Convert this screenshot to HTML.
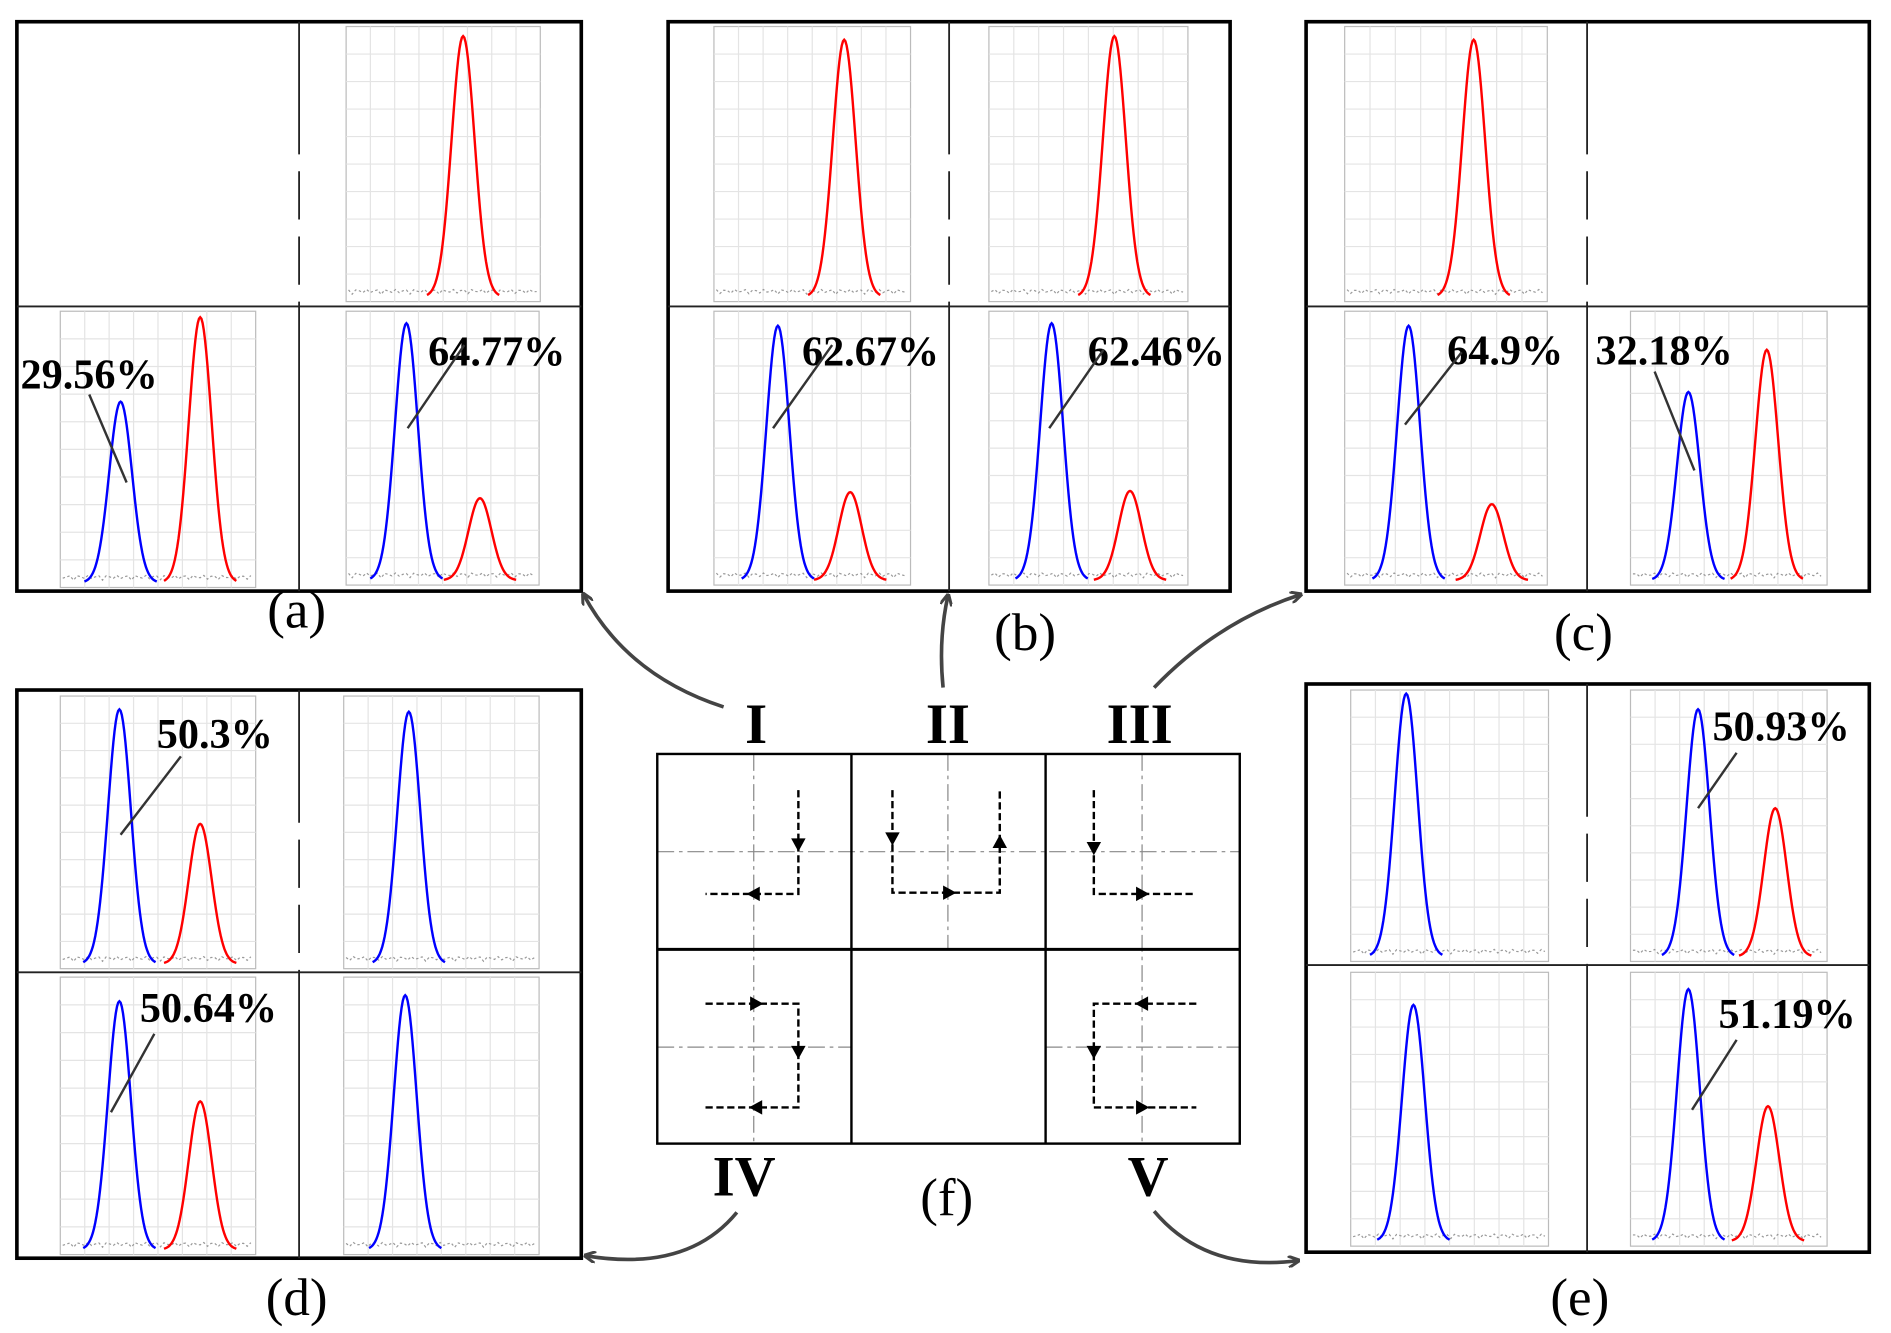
<!DOCTYPE html>
<html><head><meta charset="utf-8"><style>html,body{margin:0;padding:0;background:#fff}svg{display:block}</style></head>
<body>
<svg id="s" xmlns="http://www.w3.org/2000/svg" width="1891" height="1333" viewBox="0 0 1568 1105" preserveAspectRatio="none">
<defs>
<marker id="ah" markerWidth="10" markerHeight="10" refX="8" refY="5" orient="auto" markerUnits="userSpaceOnUse"><path d="M0,0 L10,5 L0,10" fill="none" stroke="#444" stroke-width="2.5"/></marker>
</defs>
</svg>
<script>
const S=document.getElementById('s');let h='';
function box(x1,y1,x2,y2,dx,dy){
 h+=`<rect x="${x1}" y="${y1}" width="${x2-x1}" height="${y2-y1}" fill="none" stroke="#000" stroke-width="3"/>`;
 h+=`<line x1="${dx}" y1="${y1}" x2="${dx}" y2="${y2}" stroke="#222" stroke-width="1.5" stroke-dasharray="110,14,40,14,40,14,300"/>`;
 h+=`<line x1="${x1}" y1="${dy}" x2="${x2}" y2="${dy}" stroke="#222" stroke-width="1.5"/>`;
}
function chart(x1,y1,x2,y2,peaks){
 h+=`<rect x="${x1}" y="${y1}" width="${x2-x1}" height="${y2-y1}" fill="#fff" stroke="#bbb" stroke-width="1"/>`;
 for(let i=1;i<8;i++){let x=x1+(x2-x1)*i/8;h+=`<line x1="${x}" y1="${y1}" x2="${x}" y2="${y2}" stroke="#e4e4e4"/>`;}
 for(let i=1;i<10;i++){let y=y1+(y2-y1)*i/10;h+=`<line x1="${x1}" y1="${y}" x2="${x2}" y2="${y}" stroke="#e4e4e4"/>`;}
 const base=y2-4;
 let d='';for(let x=x1+2;x<x2-2;x+=3){let v=base-2-Math.abs(Math.sin(x*1.7)*4);d+=(d?'L':'M')+x+','+v.toFixed(1);}
 h+=`<path d="${d}" fill="none" stroke="#999" stroke-width="1" stroke-dasharray="2,2"/>`;
 for(const [c,py,col] of peaks){
  let p='';for(let x=c-30;x<=c+30;x+=1){let y=base-(base-py)*Math.exp(-((x-c)**2)/(2*9.5*9.5));p+=(p?'L':'M')+x+','+y.toFixed(1);}
  h+=`<path d="${p}" fill="none" stroke="${col}" stroke-width="2"/>`;
 }
}
function lab(t,x,y,lx1,ly1,lx2,ly2){
 h+=`<text x="${x}" y="${y}" font-family="Liberation Serif,serif" font-weight="bold" font-size="35">${t}</text>`;
 h+=`<line x1="${lx1}" y1="${ly1}" x2="${lx2}" y2="${ly2}" stroke="#333" stroke-width="2"/>`;
}
const B='blue',R='red';
box(14,18,482,490,248,254);
chart(287,22,448,250,[[384,30,R]]);
chart(50,258,212,487,[[100,333,B],[166,263,R]]);
chart(287,258,447,485,[[337,268,B],[398,413,R]]);
lab('29.56%',17,322,74,327,105,400);lab('64.77%',355,303,385,286,338,355);
box(554,18,1020,490,787,254);
chart(592,22,755,250,[[700,33,R]]);
chart(820,22,985,250,[[924,30,R]]);
chart(592,258,755,485,[[645,270,B],[705,408,R]]);
chart(820,258,985,485,[[872,268,B],[937,407,R]]);
lab('62.67%',665,303,690,286,641,355);lab('62.46%',902,303,915,290,870,355);
box(1083,18,1550,490,1316,254);
chart(1115,22,1283,250,[[1222,33,R]]);
chart(1115,258,1283,485,[[1168,270,B],[1237,418,R]]);
chart(1352,258,1515,485,[[1400,325,B],[1465,290,R]]);
lab('64.9%',1200,302,1212,292,1165,352);lab('32.18%',1323,302,1372,308,1405,390);
box(14,572,482,1043,248,806);
chart(50,577,212,803,[[99,588,B],[166,683,R]]);
chart(285,577,447,803,[[339,590,B]]);
chart(50,810,212,1040,[[99,830,B],[166,913,R]]);
chart(285,810,447,1040,[[336,825,B]]);
lab('50.3%',130,620,150,627,100,692);lab('50.64%',116,847,128,857,92,922);
box(1083,567,1550,1038,1316,800);
chart(1120,572,1284,797,[[1166,575,B]]);
chart(1352,572,1515,797,[[1408,588,B],[1472,670,R]]);
chart(1120,806,1284,1033,[[1172,833,B]]);
chart(1352,806,1515,1033,[[1400,820,B],[1466,917,R]]);
lab('50.93%',1420,614,1440,624,1408,670);lab('51.19%',1425,852,1440,862,1403,920);
const T=(t,x,y,s,w)=>h+=`<text x="${x}" y="${y}" text-anchor="middle" font-family="Liberation Serif,serif" font-size="${s}" ${w?'font-weight="bold"':''}>${t}</text>`;
T('(a)',246,520,44);T('(b)',850,539,44);T('(c)',1313,539,44);T('(d)',246,1090,44);T('(e)',1310,1090,44);T('(f)',785,1007,44);
T('I',627,616,47,1);T('II',786,616,47,1);T('III',945,616,47,1);T('IV',617,991,47,1);T('V',952,991,47,1);
const A=d=>h+=`<path d="${d}" fill="none" stroke="#444" stroke-width="3" marker-end="url(#ah)"/>`;
A('M600,586 Q520,560 484,493');A('M782,570 Q778,530 786,494');A('M957,570 Q1010,515 1078,493');
A('M611,1005 Q570,1055 486,1041');A('M957,1004 Q1000,1055 1076,1045');
h+=`<g stroke="#888" stroke-width="1" stroke-dasharray="14,4,3,4">
<line x1="625" y1="625" x2="625" y2="948"/><line x1="786" y1="625" x2="786" y2="787"/><line x1="947" y1="625" x2="947" y2="948"/>
<line x1="545" y1="706" x2="1028" y2="706"/><line x1="545" y1="868" x2="706" y2="868"/><line x1="867" y1="868" x2="1028" y2="868"/></g>`;
h+=`<g fill="none" stroke="#000" stroke-width="2"><rect x="545" y="625" width="483" height="323"/><line x1="706" y1="625" x2="706" y2="948"/><line x1="867" y1="625" x2="867" y2="948"/><line x1="545" y1="787" x2="1028" y2="787" stroke-width="2.5"/></g>`;
const P=d=>h+=`<path d="${d}" fill="none" stroke="#000" stroke-width="2" stroke-dasharray="6,3"/>`;
P('M662,655 V741 H585');P('M740,655 V740 H829 V655');P('M907,655 V741 H992');
P('M585,832 H662 V918 H585');P('M992,832 H907 V918 H992');
const tri=(x,y,dir)=>{const r={d:0,u:180,l:90,r:-90}[dir];h+=`<path d="M-6,-5 L6,-5 L0,6 Z" transform="translate(${x},${y}) rotate(${r})" fill="#000"/>`;};
tri(662,700,'d');tri(625,741,'l');tri(740,695,'d');tri(787,740,'r');tri(829,698,'u');tri(907,703,'d');tri(947,741,'r');
tri(627,832,'r');tri(662,872,'d');tri(627,918,'l');tri(947,832,'l');tri(907,872,'d');tri(947,918,'r');
S.insertAdjacentHTML('beforeend',h);
</script>
</body></html>
